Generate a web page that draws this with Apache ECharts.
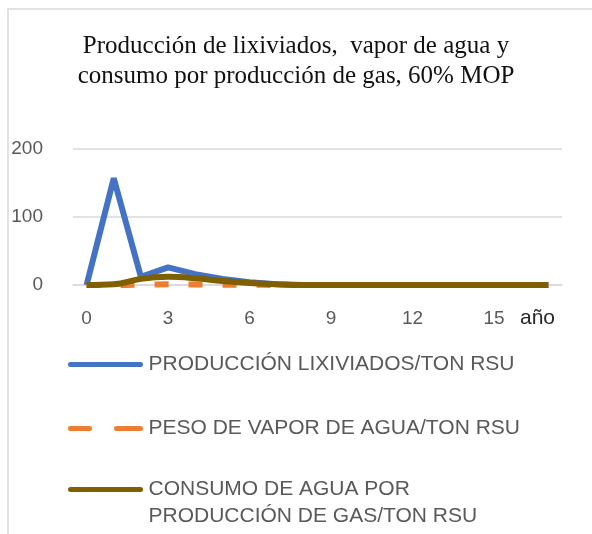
<!DOCTYPE html>
<html>
<head>
<meta charset="utf-8">
<script src="https://cdn.jsdelivr.net/npm/echarts@6/dist/echarts.min.js"></script>
<style>
  html, body { margin: 0; padding: 0; background: #fff; }
  #main { width: 592px; height: 534px; }
</style>
</head>
<body>
<div id="main"></div>
<script>
// años 0..17
const years = ["0","1","2","3","4","5","6","7","8","9","10","11","12","13","14","15","16","17"];
const lixiviados = [0, 157, 12, 26, 16, 9, 4, 1, 0, 0, 0, 0, 0, 0, 0, 0, 0, 0];
const vaporAgua  = [0, 0, 0.5, 1, 0.8, 0.5, 0.3, 0.1, 0, 0, 0, 0, 0, 0, 0, 0, 0, 0];
const consumoGas = [0, 1, 9, 12, 10, 6, 3, 1, 0, 0, 0, 0, 0, 0, 0, 0, 0, 0];
const yTicks = [0, 100, 200];

const names = [
  "PRODUCCIÓN LIXIVIADOS/TON RSU",
  "PESO DE VAPOR DE AGUA/TON RSU",
  "CONSUMO DE AGUA POR\nPRODUCCIÓN DE GAS/TON RSU"
];

const chart = echarts.init(document.getElementById("main"));

const legendText = {
  fontFamily: "Liberation Sans",
  fontSize: 21,
  color: "#595959",
  lineHeight: 27
};
// legend icons drawn as thick rounded strokes (same bbox width for both)
const solidIcon = "path://M2,0h70a2.5,2.5 0 0 1 0,5h-70a2.5,2.5 0 0 1 0,-5z";
const dashIcon = "path://M2,0h19a2.5,2.5 0 0 1 0,5h-19a2.5,2.5 0 0 1 0,-5z M48,0h24a2.5,2.5 0 0 1 0,5h-24a2.5,2.5 0 0 1 0,-5z";

const option = {
  animation: false,
  title: {
    text: "Producción de lixiviados,  vapor de agua y\nconsumo por producción de gas, 60% MOP",
    left: "center",
    top: 26,
    textStyle: {
      fontFamily: "Liberation Serif",
      fontWeight: "normal",
      fontSize: 25,
      lineHeight: 30,
      color: "#111"
    }
  },
  graphic: [
    {
      type: "rect",
      shape: { x: 8, y: 9, width: 700, height: 700 },
      style: { fill: "none", stroke: "#d9d9d9", lineWidth: 1.5 },
      silent: true
    },
    {
      type: "text",
      left: 520,
      top: 308,
      style: {
        text: "año",
        font: "21px 'Liberation Sans'",
        fill: "#262626"
      },
      silent: true
    }
  ],
  legend: [
    { top: 346, left: 63, itemWidth: 76, itemHeight: 5, icon: solidIcon,
      textStyle: legendText, data: [names[0]] },
    { top: 410, left: 63, itemWidth: 76, itemHeight: 5, icon: dashIcon,
      textStyle: legendText, data: [names[1]] },
    { top: 444, left: 63, itemWidth: 76, itemHeight: 5, icon: solidIcon,
      textStyle: legendText, data: [names[2]],
      formatter: function (n) { return "\n" + n; } }
  ],
  grid: { left: 73, right: 30, top: 149, bottom: 249 },
  xAxis: {
    type: "category",
    data: years,
    boundaryGap: true,
    axisLine: { show: true, lineStyle: { color: "#d9d9d9", width: 1.5 } },
    axisTick: { show: false },
    axisLabel: {
      interval: 2,
      margin: 24,
      fontFamily: "Liberation Sans",
      fontSize: 19,
      color: "#595959"
    }
  },
  yAxis: {
    type: "value",
    min: yTicks[0],
    max: yTicks[yTicks.length - 1],
    interval: yTicks[1] - yTicks[0],
    axisLine: { show: false },
    axisTick: { show: false },
    splitLine: { lineStyle: { color: "#d9d9d9", width: 1.5 } },
    axisLabel: {
      margin: 30,
      fontFamily: "Liberation Sans",
      fontSize: 19,
      color: "#595959"
    }
  },
  series: [
    {
      name: names[0],
      type: "line",
      data: lixiviados,
      symbol: "none",
      lineStyle: { color: "#4472C4", width: 6 },
      itemStyle: { color: "#4472C4" },
      z: 3
    },
    {
      name: names[1],
      type: "line",
      data: vaporAgua,
      symbol: "none",
      smooth: 0.4,
      lineStyle: { color: "#ED7D31", width: 6, type: [14, 20] },
      itemStyle: { color: "#ED7D31" },
      z: 4
    },
    {
      name: names[2],
      type: "line",
      data: consumoGas,
      symbol: "none",
      smooth: 0.4,
      lineStyle: { color: "#7F6000", width: 6 },
      itemStyle: { color: "#7F6000" },
      z: 5
    }
  ]
};

chart.setOption(option);
</script>
</body>
</html>
